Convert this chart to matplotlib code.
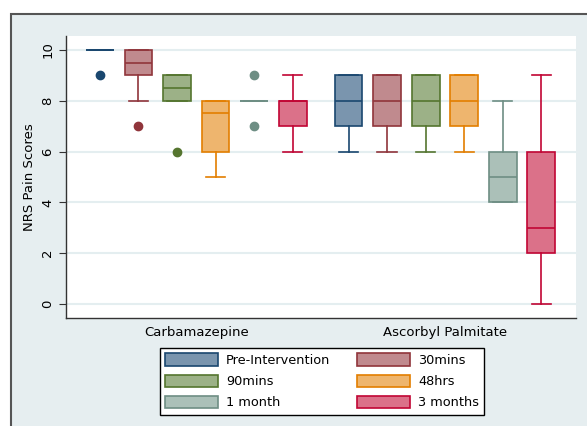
import matplotlib
matplotlib.use("Agg")
import matplotlib.pyplot as plt
from matplotlib.patches import Rectangle, Patch

groups = ["Carbamazepine", "Ascorbyl Palmitate"]
periods = ["Pre-Intervention", "30mins", "90mins", "48hrs", "1 month", "3 months"]

# per group, per period: (whislo, q1, med, q3, whishi, outliers)
carba = [
    (10, 10, 10, 10, 10, [9]),
    (8, 9, 9.5, 10, 10, [7]),
    (8, 8, 8.5, 9, 9, [6]),
    (5, 6, 7.5, 8, 8, []),
    (8, 8, 8, 8, 8, [9, 7]),
    (6, 7, 8, 8, 9, []),
]
ascorbyl = [
    (6, 7, 8, 9, 9, []),
    (6, 7, 8, 9, 9, []),
    (6, 7, 8, 9, 9, []),
    (6, 7, 8, 9, 9, []),
    (4, 4, 5, 6, 8, []),
    (0, 2, 3, 6, 9, []),
]

edge_colors = ["#1a476f", "#90353b", "#55752f", "#e37e00", "#6e8e84", "#c10534"]
fill_colors = ["#7a95ae", "#c08a8e", "#9cb187", "#eeb56e", "#abc0b8", "#db7189"]

fig = plt.figure(figsize=(5.87, 4.26), dpi=100)
fig.patch.set_facecolor("white")

# outer graph region (cropped on the right and bottom)
frame = Rectangle((11 / 587, -0.1), 1.2, 1 - 14 / 426 + 0.1, transform=fig.transFigure,
                  facecolor="#e6eef0", edgecolor="#555555", linewidth=1.5, zorder=-10)
fig.patches.append(frame)

ax = fig.add_axes([66 / 587, 1 - 318 / 426, 510 / 587, 282 / 426])
ax.set_facecolor("white")

step = 1.0
gap = 1.45
for g, data in enumerate([carba, ascorbyl]):
    for i, (lo, q1, med, q3, hi, fl) in enumerate(data):
        pos = g * (5 + gap) + i * step
        stats = [dict(whislo=lo, q1=q1, med=med, q3=q3, whishi=hi, fliers=fl)]
        ec = edge_colors[i]
        ax.bxp(stats, positions=[pos], widths=0.72, patch_artist=True, showfliers=True,
               boxprops=dict(facecolor=fill_colors[i], edgecolor=ec, linewidth=1.2),
               medianprops=dict(color=ec, linewidth=1.2),
               whiskerprops=dict(color=ec, linewidth=1.2),
               capprops=dict(color=ec, linewidth=1.2),
               capwidths=0.5,
               flierprops=dict(marker="o", markerfacecolor=ec, markeredgecolor=ec,
                               markersize=6),
               manage_ticks=False)

ax.set_xlim(-0.88, 5 + gap + 5 + 0.9)
ax.set_ylim(-0.55, 10.55)
ax.set_yticks([0, 2, 4, 6, 8, 10])
ax.set_yticklabels(["0", "2", "4", "6", "8", "10"], rotation=90, va="center")
ax.grid(axis="y", color="#e4eef0", linewidth=1.5, zorder=0)
ax.set_axisbelow(True)
ax.set_xticks([2.5, 5 + gap + 2.5])
ax.set_xticklabels(groups)
ax.tick_params(axis="x", length=0, labelsize=9.5, pad=6)
ax.tick_params(axis="y", length=5, labelsize=9.5, color="#333333")
ax.set_ylabel("NRS Pain Scores", fontsize=9.5)
for s in ["top", "right"]:
    ax.spines[s].set_visible(False)
for s in ["left", "bottom"]:
    ax.spines[s].set_color("#333333")
    ax.spines[s].set_linewidth(1.0)

order = [0, 2, 4, 1, 3, 5]
handles = [Patch(facecolor=fill_colors[k], edgecolor=edge_colors[k], linewidth=1.2,
                 label=periods[k]) for k in order]
leg = fig.legend(handles=handles, ncol=2, loc="upper left",
                 bbox_to_anchor=(160 / 587, 1 - 348 / 426), borderaxespad=0,
                 fontsize=9.3, frameon=True, fancybox=False, edgecolor="black",
                 framealpha=1.0, facecolor="white",
                 handlelength=4.1, handleheight=1.1, handletextpad=0.6,
                 columnspacing=2.1, labelspacing=0.6, borderpad=0.4)
leg.get_frame().set_linewidth(1.0)

fig.savefig("out.png", dpi=100)
